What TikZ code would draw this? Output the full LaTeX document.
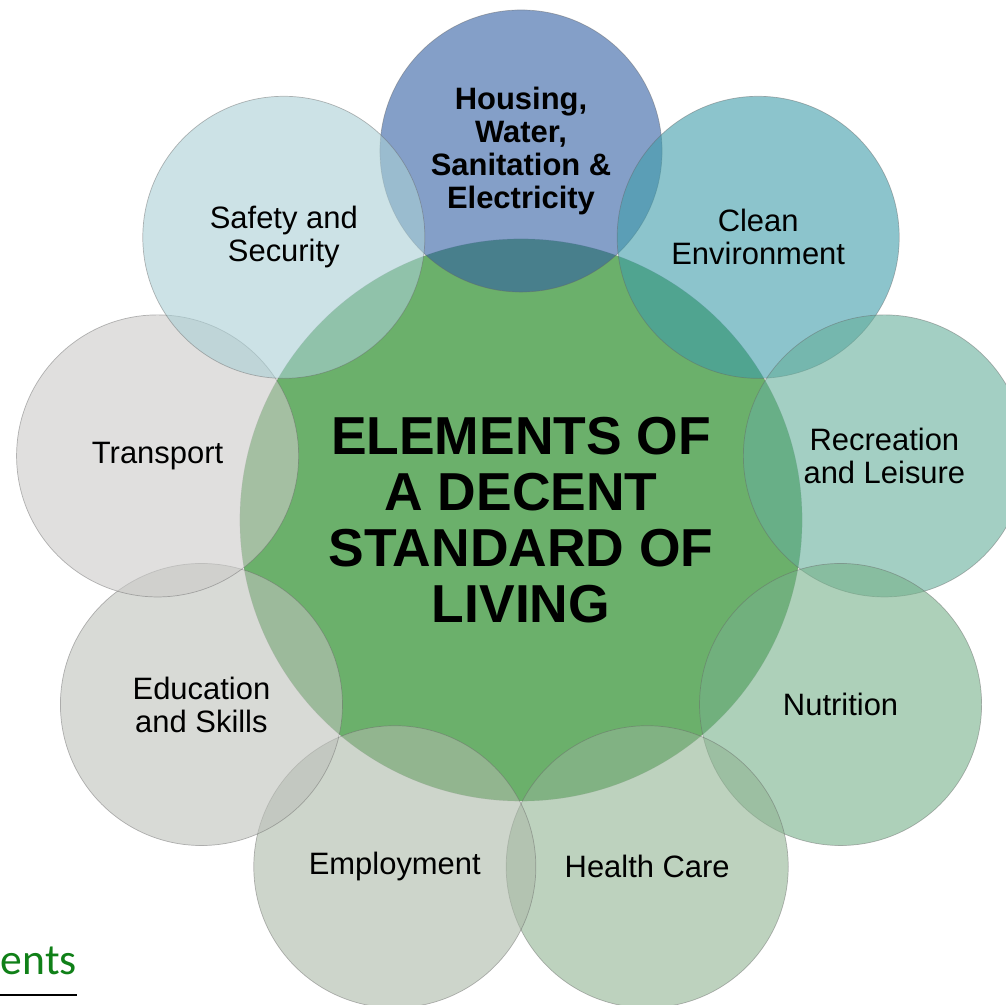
\documentclass[tikz,border=0pt]{standalone}
\usepackage{fontspec}
\setmainfont{Liberation Sans}
\newfontfamily\logofont{Carlito}
\usetikzlibrary{calc}

\definecolor{hubgreen}{RGB}{107,176,107}
\definecolor{housingblue}{RGB}{50,95,163}
\definecolor{cleanteal}{RGB}{63,157,170}
\definecolor{recteal}{RGB}{102,175,155}
\definecolor{nutrigreen}{RGB}{118,177,138}
\definecolor{healthgreen}{RGB}{145,180,147}
\definecolor{employgrey}{RGB}{172,185,168}
\definecolor{edugrey}{RGB}{190,193,187}
\definecolor{transgrey}{RGB}{203,202,200}
\definecolor{safetyblue}{RGB}{170,207,213}
\definecolor{logogreen}{RGB}{16,128,24}

\tikzset{petal/.style={circle,minimum size=7.05cm,inner sep=0pt,draw=black!60,line width=0.5pt,
  draw opacity=0.45,fill opacity=0.6,text opacity=1,align=center,font=\fontsize{22}{23.5}\selectfont}}
\tikzset{hub/.style={circle,minimum size=14.05cm,inner sep=0pt,fill=hubgreen,draw=black!50,
  draw opacity=0.3,align=center,font=\bfseries\fontsize{38}{40}\selectfont}}

\begin{document}
\begin{tikzpicture}[x=0.025cm,y=0.025cm]
  \useasboundingbox (0,0) rectangle (1006,1005);

  % centre
  \node[hub] (hub) at (521,485) {ELEMENTS OF\\A DECENT\\STANDARD OF\\LIVING};

  % ring of elements
  \node[petal,fill=housingblue,font=\bfseries\fontsize{22}{23.5}\selectfont] (housing) at ($(hub)+(90:369)$)
    {Housing,\\Water,\\Sanitation \&\\Electricity};
  \foreach \ang/\name/\col/\txt in {50/clean/cleanteal/{Clean\\Environment},
      10/recreation/recteal/{Recreation\\and Leisure}, -30/nutrition/nutrigreen/{Nutrition},
      -70/health/healthgreen/{Health Care}, -110/employment/employgrey/{Employment},
      -150/education/edugrey/{Education\\and Skills}, 170/transport/transgrey/{Transport},
      130/safety/safetyblue/{Safety and\\Security}}
    \node[petal,fill=\col] (\name) at ($(hub)+(\ang:369)$) {\txt};

  % logo fragment
  \node[anchor=base east,inner sep=0pt,text=logogreen,font=\logofont\fontsize{31}{33}\selectfont] (ents) at (77,30) {ents};
  \coordinate (rulestart) at (0,10);
  \draw[line width=1.3pt] (rulestart) -- (rulestart -| ents.east);
\end{tikzpicture}
\end{document}
